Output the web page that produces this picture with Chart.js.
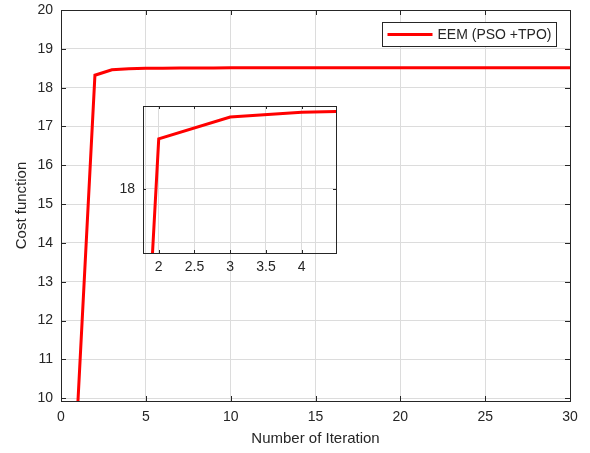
<!DOCTYPE html>
<html>
<head>
<meta charset="utf-8">
<script src="https://cdn.jsdelivr.net/npm/chart.js@4"></script>
<style>
  html, body { margin: 0; padding: 0; background: #fff; }
  #wrap { position: relative; width: 590px; height: 453px; }
  #mainChart { position: absolute; left: 0; top: 0; }
  #insetChart { position: absolute; left: 110px; top: 100px; }
</style>
</head>
<body>
<div id="wrap">
  <canvas id="mainChart" width="590" height="453"></canvas>
  <canvas id="insetChart" width="236" height="180"></canvas>
</div>
<script>
// Iteration number and cost function value
const iterations = [1, 2, 3, 4, 5, 6, 7, 8, 9, 10, 11, 12, 13, 14, 15,
                    16, 17, 18, 19, 20, 21, 22, 23, 24, 25, 26, 27, 28, 29, 30];
const costValues = [9.93, 18.32, 18.46, 18.49, 18.50, 18.50, 18.505, 18.505, 18.505, 18.51,
                    18.51, 18.51, 18.51, 18.51, 18.51, 18.51, 18.51, 18.51, 18.51, 18.51,
                    18.51, 18.51, 18.51, 18.51, 18.51, 18.51, 18.51, 18.51, 18.51, 18.51];
const seriesLabel = 'EEM (PSO +TPO)';

// tick labels
const mainXTicks = [0, 5, 10, 15, 20, 25, 30];
const mainYTicks = [10, 11, 12, 13, 14, 15, 16, 17, 18, 19, 20];
const insetXTicks = [2, 2.5, 3, 3.5, 4];
const insetYTicks = [18];

const FONT = 'Liberation Sans, Arial, Helvetica, sans-serif';
const TEXT = '#262626';
const GRID = '#dcdcdc';

Chart.defaults.font.family = FONT;
Chart.defaults.color = TEXT;

const points = iterations.map((x, i) => ({ x: x, y: costValues[i] }));

// draws the full axes box and MATLAB-style inward ticks
const boxPlugin = {
    id: 'boxPlugin',
    afterDatasetsDraw(chart, args, opts) {
        const ctx = chart.ctx;
        const a = chart.chartArea;
        const len = opts.tickLen || 5;
        ctx.save();
        ctx.strokeStyle = TEXT;
        ctx.lineWidth = 1;
        ctx.beginPath();
        chart.scales.x.ticks.forEach(t => {
            const px = Math.round(chart.scales.x.getPixelForValue(t.value)) + 0.5;
            ctx.moveTo(px, a.bottom); ctx.lineTo(px, a.bottom - len);
            ctx.moveTo(px, a.top); ctx.lineTo(px, a.top + len);
        });
        chart.scales.y.ticks.forEach(t => {
            const py = Math.round(chart.scales.y.getPixelForValue(t.value)) + 0.5;
            ctx.moveTo(a.left, py); ctx.lineTo(a.left + len, py);
            ctx.moveTo(a.right, py); ctx.lineTo(a.right - len, py);
        });
        ctx.stroke();
        ctx.strokeRect(Math.round(a.left) + 0.5, Math.round(a.top) + 0.5,
                       Math.round(a.right - a.left), Math.round(a.bottom - a.top));
        ctx.restore();
    }
};

// legend box in the top right corner
const legendPlugin = {
    id: 'legendBox',
    afterDraw(chart, args, opts) {
        if (!opts.show) return;
        const ctx = chart.ctx;
        const ds = chart.data.datasets[0];
        const x = 382.5, y = 22.5, w = 174, h = 24;
        ctx.save();
        ctx.fillStyle = '#fff';
        ctx.fillRect(x, y, w, h);
        ctx.strokeStyle = TEXT;
        ctx.lineWidth = 1;
        ctx.strokeRect(x, y, w, h);
        ctx.strokeStyle = ds.borderColor;
        ctx.lineWidth = 3;
        ctx.beginPath();
        ctx.moveTo(x + 5, y + h / 2);
        ctx.lineTo(x + 50, y + h / 2);
        ctx.stroke();
        ctx.fillStyle = TEXT;
        ctx.font = '14px ' + FONT;
        ctx.textBaseline = 'middle';
        ctx.fillText(ds.label, x + 55, y + h / 2 + 1);
        ctx.restore();
    }
};

function makeChart(id, cfg) {
    return new Chart(document.getElementById(id).getContext('2d'), {
        type: 'line',
        data: {
            datasets: [{
                label: seriesLabel,
                data: points,
                borderColor: '#ff0000',
                borderWidth: 3,
                pointRadius: 0,
                tension: 0,
                fill: false
            }]
        },
        options: {
            responsive: false,
            animation: false,
            layout: { padding: cfg.padding },
            plugins: {
                legend: { display: false },
                tooltip: { enabled: false },
                boxPlugin: { tickLen: cfg.tickLen },
                legendBox: { show: cfg.legend }
            },
            scales: {
                x: {
                    type: 'linear',
                    min: cfg.xMin, max: cfg.xMax,
                    afterBuildTicks: s => { s.ticks = cfg.xTicks.map(v => ({ value: v })); },
                    afterFit: s => { s.height = cfg.xHeight; s.paddingLeft = 0; s.paddingRight = 0; },
                    grid: { color: GRID, drawTicks: false },
                    border: { display: false },
                    ticks: {
                        font: { size: 14 }, padding: cfg.xPad, maxRotation: 0, autoSkip: false,
                        callback: v => String(v)
                    },
                    title: cfg.xTitle ? {
                        display: true, text: cfg.xTitle, font: { size: 15 },
                        padding: { top: 0, bottom: 5 }
                    } : { display: false }
                },
                y: {
                    type: 'linear',
                    min: cfg.yMin, max: cfg.yMax,
                    afterBuildTicks: s => { s.ticks = cfg.yTicks.map(v => ({ value: v })); },
                    afterFit: s => { s.width = cfg.yWidth; s.paddingTop = 0; s.paddingBottom = 0; },
                    grid: { color: GRID, drawTicks: false },
                    border: { display: false },
                    ticks: { font: { size: 14 }, padding: 8, autoSkip: false, callback: v => String(v) },
                    title: cfg.yTitle ? {
                        display: true, text: cfg.yTitle, font: { size: 15 },
                        padding: { top: 13, bottom: 0 }
                    } : { display: false }
                }
            }
        },
        plugins: [boxPlugin, legendPlugin]
    });
}

// main axes
makeChart('mainChart', {
    padding: { top: 10, right: 20, left: 0, bottom: 0 },
    xMin: 0, xMax: 30, yMin: 9.93, yMax: 20,
    xTicks: mainXTicks, yTicks: mainYTicks,
    xHeight: 52, yWidth: 61, xPad: 8, tickLen: 5,
    xTitle: 'Number of Iteration', yTitle: 'Cost function',
    legend: true
});

// zoomed inset
makeChart('insetChart', {
    padding: { top: 6, right: 10, left: 0, bottom: 0 },
    xMin: 1.78, xMax: 4.48, yMin: 17.59, yMax: 18.53,
    xTicks: insetXTicks, yTicks: insetYTicks,
    xHeight: 27, yWidth: 33, xPad: 6, tickLen: 3,
    xTitle: null, yTitle: null,
    legend: false
});
</script>
</body>
</html>
